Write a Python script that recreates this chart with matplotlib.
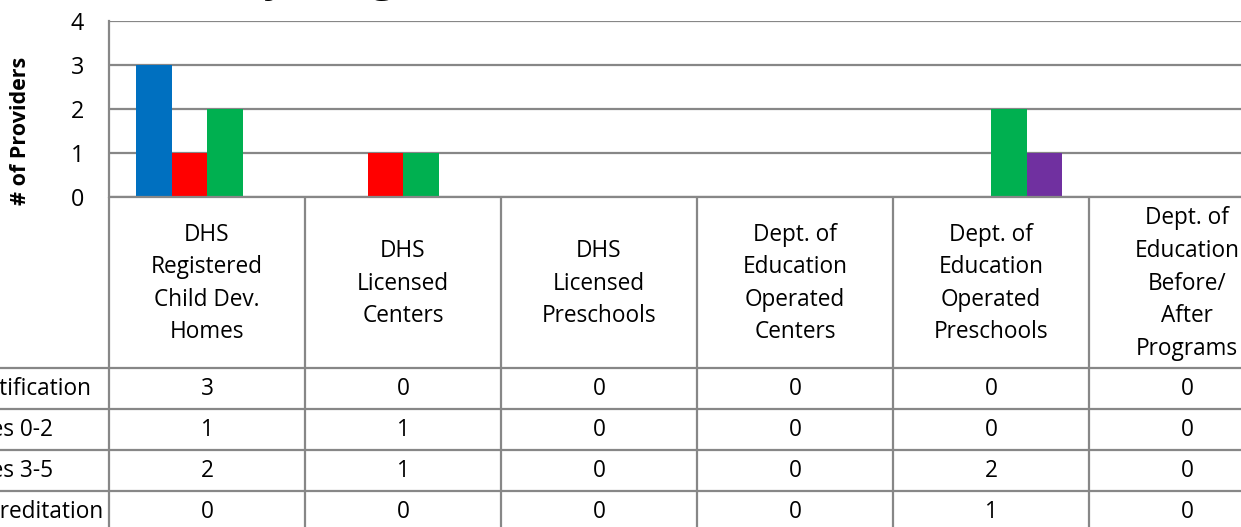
import matplotlib.pyplot as plt
import numpy as np

plt.rcParams["font.family"] = ["Open Sans", "DejaVu Sans"]

CATEGORIES = [
    "DHS\nRegistered\nChild Dev.\nHomes",
    "DHS\nLicensed\nCenters",
    "DHS\nLicensed\nPreschools",
    "Dept. of\nEducation\nOperated\nCenters",
    "Dept. of\nEducation\nOperated\nPreschools",
    "Dept. of\nEducation\nBefore/\nAfter\nPrograms",
]
SERIES = ["Certification", "Ages 0-2", "Ages 3-5", "Accreditation"]
CERTIFICATION = [3, 0, 0, 0, 0, 0]
AGES_0_2 = [1, 1, 0, 0, 0, 0]
AGES_3_5 = [2, 1, 0, 0, 2, 0]
ACCREDITATION = [0, 0, 0, 0, 1, 0]
COLORS = ["#0070C0", "#FF0000", "#00B050", "#7030A0"]
TITLE = "Number of Providers, by Program"
YTICKS = [0, 1, 2, 3, 4]

W, H = 1241, 527
GRID = "#878787"
COL_PX = 196.0
LEFT_PX = 109.0
FS = 16.3


def fx(px):
    return px / W


def fy(py):
    return 1 - py / H


def col_x(px):
    """pixel x -> category data units"""
    return -0.5 + (px - LEFT_PX) / COL_PX


def main() -> None:
    values = [CERTIFICATION, AGES_0_2, AGES_3_5, ACCREDITATION]
    n = len(CATEGORIES)
    right_px = LEFT_PX + n * COL_PX

    fig = plt.figure(figsize=(W / 100, H / 100), dpi=100)

    # bar area
    ax = fig.add_axes([fx(LEFT_PX), fy(197), fx(right_px - LEFT_PX), (197 - 21) / H])
    x = np.arange(n)
    width = 35.5 / COL_PX
    for i, (vals, color) in enumerate(zip(values, COLORS)):
        ax.bar(x + (i - 1.5) * width, vals, width=width, color=color, label=SERIES[i], zorder=3)
    ax.set_xlim(-0.5, n - 0.5)
    ax.set_ylim(0, 4)
    ax.set_yticks(YTICKS)
    ax.tick_params(axis="y", length=0, pad=18, labelsize=FS + 0.5)
    ax.set_xticks([])
    ax.grid(axis="y", color=GRID, linewidth=1.6, zorder=1)
    for side in ["top", "right", "bottom"]:
        ax.spines[side].set_visible(False)
    ax.spines["left"].set_color(GRID)
    ax.spines["left"].set_linewidth(1.6)
    fig.text(fx(21), fy(131), "# of Providers", rotation=90, ha="center", va="center",
             fontsize=15.5, fontweight="bold")

    # title, mostly cropped above the canvas
    fig.text(fx(482), fy(-9), TITLE, ha="right", va="baseline", fontsize=31, fontweight="bold")

    # data table
    tab_top, tab_bottom = 197, 532
    row_lines = [368, 409, 450, 491]
    tx = fig.add_axes([fx(LEFT_PX), fy(tab_bottom), fx(right_px - LEFT_PX), (tab_bottom - tab_top) / H])
    tx.set_xlim(-0.5, n - 0.5)
    tx.set_ylim(tab_bottom, tab_top)
    tx.axis("off")

    tx.hlines(tab_top, -0.5, n - 0.5, color=GRID, linewidth=1.6, clip_on=False)
    tx.hlines(row_lines, col_x(-40), n - 0.5, color=GRID, linewidth=1.6, clip_on=False)
    tx.vlines(np.arange(n + 1) - 0.5, tab_top, tab_bottom, color=GRID, linewidth=1.6, clip_on=False)

    for j, label in enumerate(CATEGORIES):
        tx.text(j, (tab_top + row_lines[0]) / 2 + 1, label, ha="center", va="center",
                fontsize=FS, linespacing=1.48)

    row_edges = row_lines + [tab_bottom]
    for r, vals in enumerate(values):
        yc = (row_edges[r] + row_edges[r + 1]) / 2
        tx.text(col_x(-36), yc, SERIES[r], ha="left", va="center", fontsize=FS, clip_on=False)
        for j, v in enumerate(vals):
            tx.text(j, yc, str(v), ha="center", va="center", fontsize=FS)

    fig.savefig("out.png", dpi=100)


if __name__ == "__main__":
    main()
